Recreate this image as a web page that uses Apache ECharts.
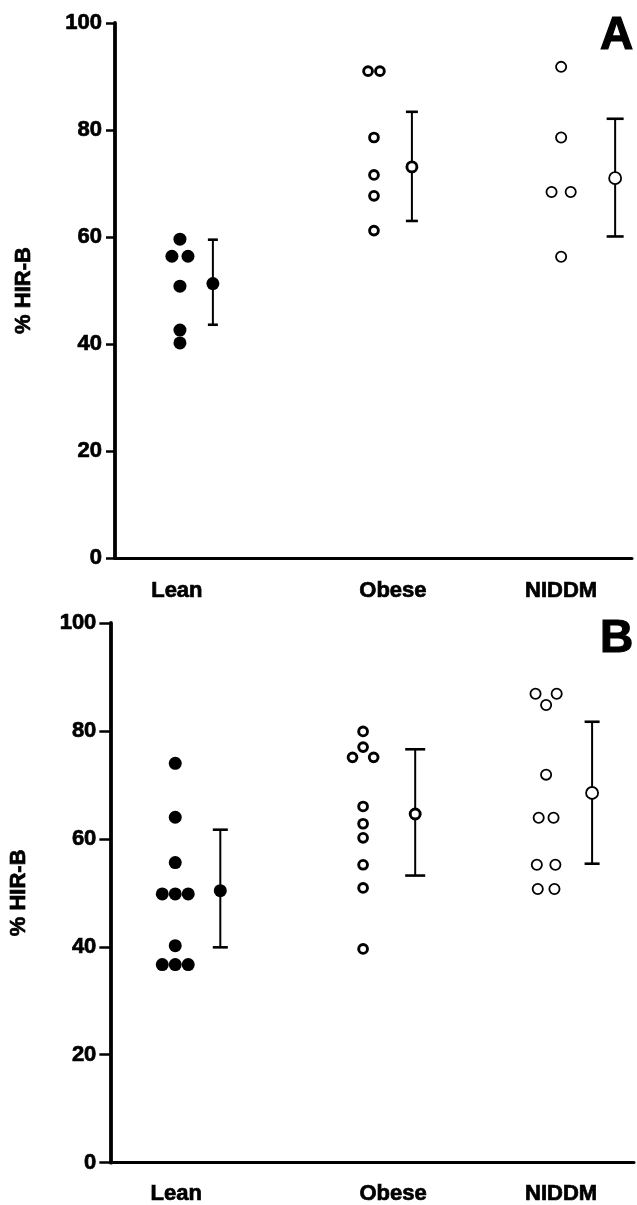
<!DOCTYPE html>
<html>
<head>
<meta charset="utf-8">
<script src="https://cdn.jsdelivr.net/npm/echarts@6/dist/echarts.min.js"></script>
<style>
html,body{margin:0;padding:0;background:#fff;}
#chart{width:637px;height:1205px;}
</style>
</head>
<body>
<div id="chart"></div>
<script>
// ---------- DATA ----------
const categories = ['Lean', 'Obese', 'NIDDM'];
const yTicks = [0, 20, 40, 60, 80, 100];
const yAxisTitle = '% HIR-B';
const panelLetters = ['A', 'B'];

// Panel A: individual values
const leanA  = [59.6, 56.4, 56.4, 50.8, 42.6, 40.2];
const obeseA = [91.0, 91.0, 78.6, 71.6, 67.7, 61.2];
const niddmA = [91.8, 78.6, 68.4, 68.4, 56.3];
// Panel A: group mean and error bar ends
const meanA  = [51.3, 73.1, 71.0];
const upperA = [59.5, 83.4, 82.1];
const lowerA = [43.6, 63.0, 60.1];

// Panel B: individual values
const leanB  = [74.0, 64.0, 55.6, 49.8, 49.8, 49.8, 40.2, 36.7, 36.7, 36.7];
const obeseB = [79.9, 77.0, 75.1, 75.1, 66.0, 62.8, 60.2, 55.2, 50.9, 39.6];
const niddmB = [86.9, 86.9, 84.8, 71.9, 63.9, 63.9, 55.2, 55.2, 50.7, 50.7];
// Panel B: group mean and error bar ends
const meanB  = [50.4, 64.6, 68.5];
const upperB = [61.7, 76.6, 81.7];
const lowerB = [39.9, 53.2, 55.4];

// ---------- LAYOUT (positions in category units, styles) ----------
const layoutA = {
  grid: {left: 115, top: 23, width: 517, height: 535},
  xMin: -0.339, xMax: 2.360,
  dotCol: [0, 1.013, 1.99],
  meanCol: [0.172, 1.211, 2.272],
  labelCol: [-0.016, 1.112, 1.99],
  jitter: [
    [0, -0.042, 0.042, 0, 0, 0],
    [-0.031, 0.031, 0, 0, 0, 0],
    [0, 0, -0.05, 0.05, 0]
  ],
  capHalf: [5, 6, 8.5],
  labelMargin: 22, tickLen: 9, tickLabelMargin: 13, nameGap: 80,
  letterLeft: 600, letterTop: 13
};
const layoutB = {
  grid: {left: 110, top: 623, width: 524, height: 540},
  xMin: -0.350, xMax: 2.474,
  dotCol: [0, 1.013, 2.0],
  meanCol: [0.243, 1.294, 2.248],
  labelCol: [0.005, 1.175, 2.081],
  jitter: [
    [0, 0, 0, -0.07, 0, 0.07, 0, -0.07, 0, 0.07],
    [0, 0, -0.057, 0.057, 0, 0, 0, 0, 0, 0],
    [-0.057, 0.057, 0, 0, -0.04, 0.04, -0.05, 0.05, -0.045, 0.045]
  ],
  capHalf: [7.5, 10, 7.5],
  labelMargin: 20, tickLen: 11, tickLabelMargin: 14, nameGap: 80,
  letterLeft: 600, letterTop: 616
};

const FONT = 'Liberation Sans';
const HEAVY = {textBorderColor: '#000', textBorderWidth: 0.7};
// styles per group: filled, thick open, thin open
const groupStyle = [
  {dot: {size: 13, fill: '#000', border: 0}, mean: {size: 13, fill: '#000', border: 0}},
  {dot: {size: 8.8, fill: '#fff', border: 2.9}, mean: {size: 10, fill: '#fff', border: 2.9}},
  {dot: {size: 10.2, fill: '#fff', border: 1.8}, mean: {size: 12, fill: '#fff', border: 1.8}}
];

function buildPanel(idx, layout, groups, mean, upper, lower) {
  const series = [];
  const xAxis = {
    gridIndex: idx, type: 'value', min: layout.xMin, max: layout.xMax,
    splitLine: {show: false},
    axisTick: {show: false},
    axisLine: {show: true, onZero: false, lineStyle: {color: '#000', width: 3}},
    axisLabel: Object.assign({
      show: true,
      customValues: layout.labelCol,
      margin: layout.labelMargin,
      color: '#000', fontFamily: FONT, fontWeight: 'bold', fontSize: 22,
      formatter: function (v) {
        for (let i = 0; i < layout.labelCol.length; i++) {
          if (Math.abs(layout.labelCol[i] - v) < 1e-6) return categories[i];
        }
        return '';
      }
    }, HEAVY)
  };
  const yAxis = {
    gridIndex: idx, type: 'value', min: yTicks[0], max: yTicks[yTicks.length - 1],
    interval: yTicks[1] - yTicks[0],
    splitLine: {show: false},
    axisLine: {show: true, onZero: false, lineStyle: {color: '#000', width: 3.8}},
    axisTick: {show: true, inside: false, length: layout.tickLen, lineStyle: {color: '#000', width: 2.5}},
    axisLabel: Object.assign({color: '#000', fontFamily: FONT, fontWeight: 'bold', fontSize: 22, margin: layout.tickLabelMargin}, HEAVY),
    name: yAxisTitle, nameLocation: 'middle', nameRotate: 90, nameGap: layout.nameGap,
    nameTextStyle: Object.assign({color: '#000', fontFamily: FONT, fontWeight: 'bold', fontSize: 22}, HEAVY)
  };

  groups.forEach(function (vals, g) {
    const st = groupStyle[g].dot;
    series.push({
      type: 'scatter', xAxisIndex: idx, yAxisIndex: idx, z: 3,
      symbol: 'circle', symbolSize: st.size,
      itemStyle: {color: st.fill, borderColor: '#000', borderWidth: st.border, opacity: 1},
      data: vals.map(function (v, i) { return [layout.dotCol[g] + layout.jitter[g][i], v]; }),
      silent: true
    });
  });

  // error bars
  series.push({
    type: 'custom', xAxisIndex: idx, yAxisIndex: idx, z: 2, silent: true,
    data: mean.map(function (m, g) { return [layout.meanCol[g], lower[g], upper[g]]; }),
    renderItem: function (params, api) {
      const x = api.value(0);
      const lo = api.coord([x, api.value(1)]);
      const hi = api.coord([x, api.value(2)]);
      const h = layout.capHalf[params.dataIndex];
      const st = {stroke: '#000', lineWidth: 2};
      const cst = {stroke: '#000', lineWidth: 2.6};
      return {
        type: 'group',
        children: [
          {type: 'line', shape: {x1: lo[0], y1: lo[1], x2: hi[0], y2: hi[1]}, style: st},
          {type: 'line', shape: {x1: hi[0] - h, y1: hi[1], x2: hi[0] + h, y2: hi[1]}, style: cst},
          {type: 'line', shape: {x1: lo[0] - h, y1: lo[1], x2: lo[0] + h, y2: lo[1]}, style: cst}
        ]
      };
    }
  });

  // means
  mean.forEach(function (m, g) {
    const st = groupStyle[g].mean;
    series.push({
      type: 'scatter', xAxisIndex: idx, yAxisIndex: idx, z: 4,
      symbol: 'circle', symbolSize: st.size,
      itemStyle: {color: st.fill, borderColor: '#000', borderWidth: st.border, opacity: 1},
      data: [[layout.meanCol[g], m]], silent: true
    });
  });

  return {xAxis: xAxis, yAxis: yAxis, series: series,
          grid: Object.assign({containLabel: false}, layout.grid),
          title: {text: panelLetters[idx], left: layout.letterLeft, top: layout.letterTop, padding: 0,
                  textStyle: Object.assign({color: '#000', fontFamily: FONT, fontWeight: 'bold', fontSize: 46}, {textBorderColor: '#000', textBorderWidth: 1.2})}};
}

const pA = buildPanel(0, layoutA, [leanA, obeseA, niddmA], meanA, upperA, lowerA);
const pB = buildPanel(1, layoutB, [leanB, obeseB, niddmB], meanB, upperB, lowerB);

const chart = echarts.init(document.getElementById('chart'), null, {renderer: 'canvas'});
chart.setOption({
  backgroundColor: '#fff',
  animation: false,
  title: [pA.title, pB.title],
  grid: [pA.grid, pB.grid],
  xAxis: [pA.xAxis, pB.xAxis],
  yAxis: [pA.yAxis, pB.yAxis],
  series: pA.series.concat(pB.series)
});
</script>
</body>
</html>
